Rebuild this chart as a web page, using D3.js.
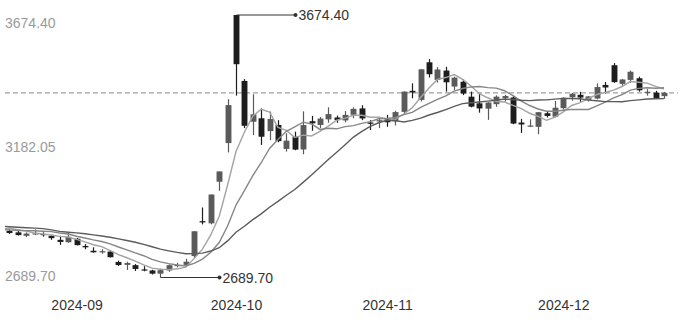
<!doctype html>
<html>
<head>
<meta charset="utf-8">
<title>SSE candlestick</title>
<script src="https://cdn.jsdelivr.net/npm/d3@7"></script>
<style>
	body { margin: 0; background: #fff; font-family: "Liberation Sans", Arial, sans-serif; }
	.ylab text { fill: #9a9a9a; font-size: 14px; }
	.xlab text { fill: #333; font-size: 14px; }
	.mark text { fill: #333; font-size: 14px; }
</style>
</head>
<body>
<svg width="688" height="322"></svg>
<script>
// trading days shown
var dates = [
	'2024-08-21','2024-08-22','2024-08-23','2024-08-26','2024-08-27','2024-08-28','2024-08-29','2024-08-30',
	'2024-09-02','2024-09-03','2024-09-04','2024-09-05','2024-09-06','2024-09-09','2024-09-10','2024-09-11',
	'2024-09-12','2024-09-13','2024-09-18','2024-09-19','2024-09-20','2024-09-23','2024-09-24','2024-09-25',
	'2024-09-26','2024-09-27','2024-09-30',
	'2024-10-08','2024-10-09','2024-10-10','2024-10-11','2024-10-14','2024-10-15','2024-10-16','2024-10-17',
	'2024-10-18','2024-10-21','2024-10-22','2024-10-23','2024-10-24','2024-10-25','2024-10-28','2024-10-29',
	'2024-10-30','2024-10-31',
	'2024-11-01','2024-11-04','2024-11-05','2024-11-06','2024-11-07','2024-11-08','2024-11-11','2024-11-12',
	'2024-11-13','2024-11-14','2024-11-15','2024-11-18','2024-11-19','2024-11-20','2024-11-21','2024-11-22',
	'2024-11-25','2024-11-26','2024-11-27','2024-11-28','2024-11-29',
	'2024-12-02','2024-12-03','2024-12-04','2024-12-05','2024-12-06','2024-12-09','2024-12-10','2024-12-11',
	'2024-12-12','2024-12-13','2024-12-16','2024-12-17','2024-12-18'
];
var opens = [
	2865, 2859, 2846, 2855, 2853, 2846, 2831, 2822,
	2835, 2808, 2790, 2785, 2787, 2748, 2737, 2736,
	2720, 2716, 2704, 2716, 2736, 2737, 2770, 2901,
	2893, 3049, 3194,
	3674.40, 3427, 3274, 3287, 3239, 3262, 3172, 3218,
	3170, 3276, 3262, 3283, 3290, 3279, 3300, 3324,
	3271, 3275,
	3283, 3275, 3311, 3390, 3356, 3497, 3431, 3466,
	3406, 3424, 3368, 3343, 3323, 3340, 3363, 3365,
	3271, 3256, 3255, 3306, 3293,
	3325, 3366, 3375, 3356, 3361, 3412, 3486, 3416,
	3431, 3437, 3384, 3383, 3370
];
var highs = [
	2869, 2868, 2859, 2870, 2859, 2850, 2846, 2857,
	2838, 2815, 2803, 2796, 2791, 2753, 2749, 2740,
	2732, 2719, 2723, 2739, 2745, 2760, 2863.52, 2952.34,
	3000.95, 3087.53, 3358.59,
	3674.40, 3434, 3377, 3324, 3312, 3280, 3231, 3237,
	3313, 3296, 3292, 3328, 3297, 3314, 3328, 3336,
	3280, 3292,
	3300, 3315, 3388, 3418, 3471, 3509, 3479, 3480,
	3443, 3433, 3387, 3381, 3347, 3373, 3375, 3372,
	3285, 3283, 3311, 3315, 3352,
	3366, 3382, 3386, 3370, 3418, 3423, 3494, 3434,
	3466, 3443, 3396, 3390, 3386
];
var lows = [
	2853, 2847, 2841, 2849, 2843, 2831, 2812, 2820,
	2810, 2796, 2783, 2779, 2765, 2733, 2718, 2714,
	2713, 2701, 2689.70, 2711, 2728, 2731, 2762, 2889,
	2889, 3015, 3159,
	3372, 3250, 3224, 3187, 3205, 3197, 3162, 3167,
	3152, 3240, 3250, 3270, 3270, 3272, 3287, 3280,
	3243, 3250,
	3255, 3260, 3305, 3362, 3350, 3440, 3421, 3387,
	3393, 3374, 3328, 3308, 3281, 3330, 3350, 3265,
	3232, 3254, 3227, 3290, 3290,
	3320, 3353, 3349, 3350, 3358, 3380, 3420, 3409,
	3420, 3387, 3372, 3359, 3360
];
var closes = [
	2856.58, 2848.77, 2854.37, 2855.52, 2848.74, 2837.43, 2823.11, 2842.21,
	2811.04, 2802.98, 2784.28, 2788.31, 2765.81, 2736.49, 2744.19, 2721.80,
	2717.12, 2704.09, 2717.28, 2736.02, 2736.81, 2748.92, 2863.13, 2896.31,
	3000.95, 3087.53, 3336.50,
	3489.78, 3258.86, 3301.93, 3217.74, 3284.32, 3201.29, 3202.95, 3169.38,
	3261.56, 3268.11, 3285.87, 3302.80, 3280.26, 3299.70, 3322.20, 3286.41,
	3266.24, 3279.82,
	3272.01, 3310.21, 3386.99, 3383.81, 3470.66, 3452.30, 3470.07, 3421.97,
	3439.28, 3379.84, 3330.73, 3323.85, 3346.01, 3367.99, 3370.40, 3267.19,
	3263.76, 3259.76, 3309.78, 3295.70, 3326.46,
	3363.98, 3378.81, 3364.65, 3368.86, 3404.08, 3402.53, 3422.66, 3432.49,
	3461.50, 3391.88, 3386.33, 3361.49, 3382.21
];
// closes before the window (2024-07-22 .. 2024-08-20), used for the averages
var priorCloses = [
	2964.22, 2915.37, 2901.95, 2886.74, 2890.90, 2891.85, 2879.30, 2938.75,
	2932.39, 2905.34, 2860.70, 2867.28, 2869.90, 2869.83, 2862.19, 2858.20,
	2867.95, 2850.65, 2877.36, 2879.43, 2893.67, 2866.66
];
var maDays = [5, 10, 20];
var maColors = ['#a3a3a3', '#868686', '#5c5c5c'];
var yTicks = [3674.40, 3182.05, 2689.70];
var monthStarts = ['2024-09-02', '2024-10-08', '2024-11-01', '2024-12-02'];
var monthLabels = ['2024-09', '2024-10', '2024-11', '2024-12'];

var svg = d3.select('svg'),
	gridLeft = 5, gridRight = 678, gridTop = 15, gridBottom = 277.5;

var x = d3.scaleLinear().domain([0, dates.length - 1]).range([9.4, 664]);
var step = x(1) - x(0), bw = step * 0.7;
var y = d3.scaleLinear().domain([2689.70, 3674.40]).range([gridBottom, gridTop]);

svg.append('defs').append('clipPath').attr('id', 'clip')
	.append('rect').attr('x', gridLeft).attr('y', 0).attr('width', gridRight - gridLeft).attr('height', 322);

// y labels
var ya = svg.append('g').attr('class', 'ylab').attr('transform', 'translate(' + gridLeft + ',0)')
	.call(d3.axisRight(y).tickValues(yTicks).tickSize(0).tickPadding(0).tickFormat(d3.format('.2f')));
ya.select('.domain').remove();
ya.selectAll('text').attr('font-family', null).attr('font-size', null)
	.attr('dy', function(d, i) { return [12, 5, 2.5][i]; });

// x labels
var xa = svg.append('g').attr('class', 'xlab').attr('transform', 'translate(0,300)')
	.call(d3.axisBottom(x)
		.tickValues(monthStarts.map(function(d) { return dates.indexOf(d); }))
		.tickFormat(function(d, i) { return monthLabels[i]; })
		.tickSize(0).tickPadding(0));
xa.select('.domain').remove();
xa.selectAll('text').attr('font-family', null).attr('font-size', null).attr('dy', 10);

// last close reference
var last = closes[closes.length - 1];
svg.append('line')
	.attr('x1', gridLeft).attr('x2', gridRight)
	.attr('y1', y(last)).attr('y2', y(last))
	.attr('stroke', '#a0a0a0').attr('stroke-width', 1.3).attr('stroke-dasharray', '5,3');

// candles
var up = '#5a5a5a', down = '#1d1d1d';
var c = svg.append('g').selectAll('g').data(dates).enter().append('g');
c.append('line')
	.attr('x1', function(d, i) { return Math.round(x(i)) + 0.5; })
	.attr('x2', function(d, i) { return Math.round(x(i)) + 0.5; })
	.attr('y1', function(d, i) { return y(highs[i]); })
	.attr('y2', function(d, i) { return y(lows[i]); })
	.attr('stroke', function(d, i) { return closes[i] >= opens[i] ? up : down; })
	.attr('stroke-width', 1.2);
c.append('rect')
	.attr('x', function(d, i) { return Math.round(x(i)) + 0.5 - bw / 2; })
	.attr('width', bw)
	.attr('y', function(d, i) { return y(Math.max(opens[i], closes[i])); })
	.attr('height', function(d, i) { return Math.max(1.2, Math.abs(y(opens[i]) - y(closes[i]))); })
	.attr('fill', function(d, i) { return closes[i] >= opens[i] ? up : down; });

// moving averages
var all = priorCloses.concat(closes), off = priorCloses.length;
var lines = svg.append('g').attr('clip-path', 'url(#clip)');
maDays.forEach(function(n, k) {
	var pts = [];
	for (var i = -1; i < closes.length; i++) {
		var j = i + off;
		pts.push([i, d3.mean(all.slice(j - n + 1, j + 1))]);
	}
	lines.append('path')
		.attr('d', d3.line().x(function(p) { return x(p[0]); }).y(function(p) { return y(p[1]); })(pts))
		.attr('fill', 'none').attr('stroke', maColors[k]).attr('stroke-width', 1.4);
});

// max / min markers
function mark(i, v) {
	var g = svg.append('g').attr('class', 'mark');
	var x0 = Math.round(x(i)) + 0.5, x1 = x0 + 59, yy = y(v);
	g.append('line').attr('x1', x0).attr('x2', x1).attr('y1', yy).attr('y2', yy)
		.attr('stroke', '#333').attr('stroke-width', 1);
	g.append('circle').attr('cx', x1).attr('cy', yy).attr('r', 2).attr('fill', '#333');
	g.append('text').attr('x', x1 + 3).attr('y', yy).attr('dy', 5).text(d3.format('.2f')(v));
}
var hi = d3.maxIndex(highs), lo = d3.minIndex(lows);
mark(hi, highs[hi]);
mark(lo, lows[lo]);
</script>
</body>
</html>
